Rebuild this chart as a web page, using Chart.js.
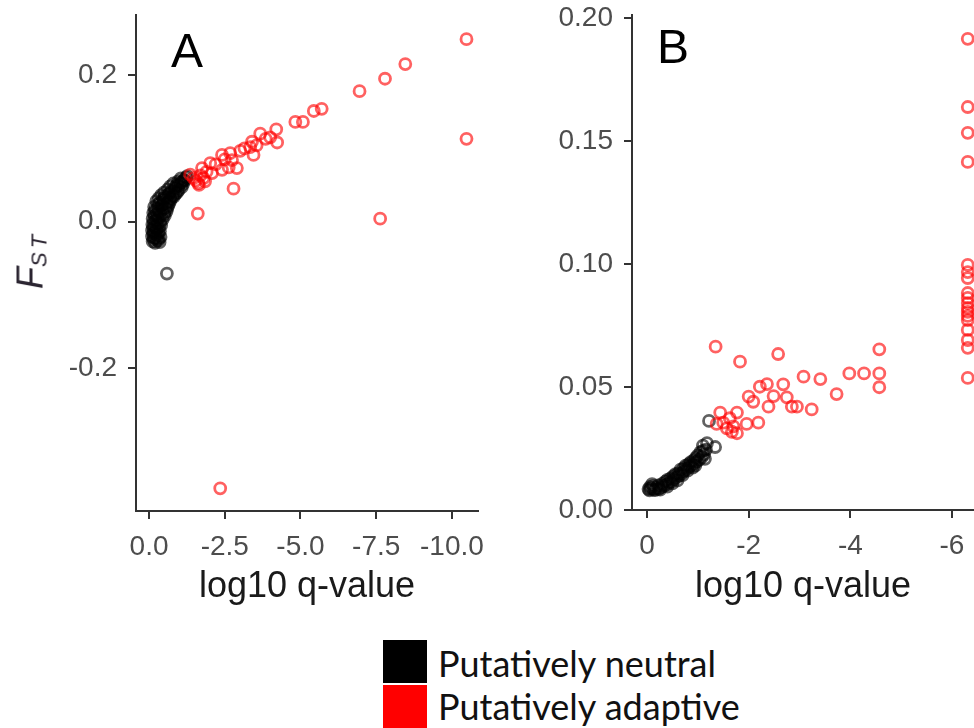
<!DOCTYPE html>
<html>
<head>
<meta charset="utf-8">
<script src="https://cdn.jsdelivr.net/npm/chart.js@4/dist/chart.umd.min.js"></script>
<style>
  body { margin: 0; width: 974px; height: 728px; overflow: hidden; position: relative; background: #fff; }
  canvas { position: absolute; top: 0; }
  .panel-tag { position: absolute; font: 48px/48px "Liberation Sans", Arial, sans-serif; color: #000; }
  .ylab {
    position: absolute; left: 35px; top: 260px; white-space: nowrap;
    transform: translate(-50%, -50%) rotate(-90deg);
    font: italic 36px/40px "Liberation Sans", Arial, sans-serif; color: #2a2430;
  }
  .ylab sub { font-size: 22px; letter-spacing: 4px; vertical-align: -4px; }
  .legend-row { position: absolute; left: 383px; height: 44px; font: 36px/44px Lato, sans-serif; color: #111; }
  .legend-row span.box { position: absolute; left: 0; width: 44px; height: 43px; }
  .legend-row span.txt { position: absolute; left: 55px; top: 0; white-space: nowrap; }
</style>
</head>
<body>
<canvas id="chartA" width="500" height="630" style="left:0"></canvas>
<canvas id="chartB" width="500" height="630" style="left:490px"></canvas>
<div class="panel-tag" style="left:171px; top:27px">A</div>
<div class="panel-tag" style="left:657px; top:23px">B</div>
<div class="ylab">F<sub>ST</sub></div>
<div class="legend-row" style="top:641px"><span class="box" style="top:-1px; background:#000"></span><span class="txt">Putatively neutral</span></div>
<div class="legend-row" style="top:684px"><span class="box" style="top:1px; background:#f00"></span><span class="txt">Putatively adaptive</span></div>
<script>
// Panel A: [log10 q-value, Fst]
const neutralA = [
  [-0.12, -0.027], [-0.20, -0.029], [-0.28, -0.026], [-0.35, -0.028],
  [-0.15, -0.024], [-0.24, -0.023], [-0.32, -0.024],
  [-0.10, -0.020], [-0.18, -0.022], [-0.27, -0.019], [-0.38, -0.021],
  [-0.14, -0.016], [-0.22, -0.017], [-0.31, -0.016],
  [-0.10, -0.012], [-0.17, -0.014], [-0.26, -0.011], [-0.36, -0.013],
  [-0.14, -0.008], [-0.23, -0.009], [-0.32, -0.008],
  [-0.11, -0.004], [-0.19, -0.006], [-0.29, -0.003], [-0.40, -0.005],
  [-0.16, 0.000], [-0.26, 0.001], [-0.37, -0.001],
  [-0.12, 0.004], [-0.22, 0.002], [-0.33, 0.005], [-0.45, 0.003],
  [-0.18, 0.008], [-0.28, 0.007], [-0.40, 0.009], [-0.52, 0.008],
  [-0.14, 0.012], [-0.24, 0.010], [-0.36, 0.013], [-0.50, 0.011], [-0.58, 0.014],
  [-0.20, 0.016], [-0.31, 0.015], [-0.45, 0.017], [-0.60, 0.018],
  [-0.17, 0.020], [-0.28, 0.018], [-0.40, 0.021], [-0.54, 0.019], [-0.64, 0.022],
  [-0.30, 0.024], [-0.44, 0.023], [-0.58, 0.025], [-0.68, 0.026],
  [-0.24, 0.028], [-0.36, 0.026], [-0.49, 0.029], [-0.62, 0.027], [-0.72, 0.030],
  [-0.32, 0.032], [-0.46, 0.031], [-0.58, 0.033], [-0.70, 0.032], [-0.82, 0.034],
  [-0.40, 0.036], [-0.52, 0.034], [-0.65, 0.037], [-0.78, 0.035], [-0.88, 0.038],
  [-0.50, 0.040], [-0.68, 0.039], [-0.82, 0.041], [-0.93, 0.040],
  [-0.62, 0.044], [-0.74, 0.042], [-0.86, 0.045], [-0.98, 0.043],
  [-0.70, 0.048], [-0.86, 0.047], [-0.98, 0.049], [-1.08, 0.047],
  [-0.80, 0.052], [-0.92, 0.050], [-1.04, 0.053], [-1.12, 0.051],
  [-0.96, 0.055], [-1.08, 0.054], [-1.18, 0.056],
  [-1.05, 0.059], [-1.15, 0.057], [-1.22, 0.060], [-1.26, 0.062],
  [-0.59, -0.071]
];
const adaptiveA = [
  [-10.48, 0.249], [-10.48, 0.113], [-8.46, 0.215], [-7.79, 0.195], [-6.95, 0.178],
  [-7.63, 0.004], [-5.70, 0.154], [-5.44, 0.151], [-5.08, 0.136], [-4.83, 0.136],
  [-4.20, 0.126], [-4.23, 0.108], [-4.00, 0.115], [-3.67, 0.120], [-3.40, 0.109],
  [-3.34, 0.1016], [-3.45, 0.091], [-3.01, 0.0966], [-2.68, 0.0935], [-2.41, 0.091],
  [-2.90, 0.073], [-2.63, 0.074], [-2.74, 0.084], [-2.41, 0.0707], [-2.02, 0.0798],
  [-2.08, 0.0662], [-1.75, 0.073], [-1.80, 0.0595], [-1.63, 0.0526], [-1.47, 0.0595],
  [-1.36, 0.064], [-1.55, 0.056], [-1.70, 0.063], [-1.90, 0.068], [-1.65, 0.050],
  [-1.85, 0.055], [-2.20, 0.078], [-2.50, 0.085], [-3.15, 0.100], [-3.55, 0.104],
  [-3.85, 0.113], [-2.79, 0.045], [-1.61, 0.011], [-2.35, -0.364]
];

// Panel B
const neutralB = [
  [-0.03, 0.0085], [-0.08, 0.0088], [-0.13, 0.0083], [-0.06, 0.0094], [-0.18, 0.0090],
  [-0.05, 0.0080], [-0.16, 0.0081], [-0.26, 0.0083], [-0.10, 0.0105], [-0.30, 0.0106],
  [-0.23, 0.0086], [-0.12, 0.0097], [-0.28, 0.0093], [-0.33, 0.0098], [-0.22, 0.0100],
  [-0.38, 0.0103], [-0.43, 0.0110], [-0.36, 0.0115], [-0.48, 0.0116], [-0.53, 0.0125],
  [-0.50, 0.0108], [-0.40, 0.0122], [-0.52, 0.0138], [-0.62, 0.0150],
  [-0.46, 0.0128], [-0.58, 0.0133], [-0.63, 0.0140], [-0.56, 0.0146], [-0.68, 0.0150],
  [-0.73, 0.0158], [-0.66, 0.0164], [-0.78, 0.0168], [-0.83, 0.0175], [-0.76, 0.0180],
  [-0.72, 0.0170], [-0.80, 0.0160], [-0.82, 0.0186], [-0.95, 0.0180],
  [-0.88, 0.0182], [-0.93, 0.0190], [-0.86, 0.0195], [-0.98, 0.0197], [-1.03, 0.0205],
  [-0.92, 0.0202], [-1.00, 0.0222], [-1.14, 0.0208], [-1.10, 0.0240],
  [-0.96, 0.0212], [-1.08, 0.0215], [-1.12, 0.0226], [-1.05, 0.0235], [-1.16, 0.0245],
  [-1.10, 0.0262], [-1.18, 0.0272], [-1.34, 0.0256], [-1.22, 0.0362], [-0.70, 0.0142],
  [-0.90, 0.0172], [-0.40, 0.0095], [-0.60, 0.0120]
];
const adaptiveB = [
  [-1.35, 0.0664], [-1.83, 0.0603], [-2.58, 0.0634], [-4.57, 0.0653], [-4.57, 0.0555],
  [-4.57, 0.0499], [-4.27, 0.0555], [-3.98, 0.0555], [-3.73, 0.0471], [-3.41, 0.0532],
  [-3.08, 0.0542], [-3.24, 0.0409], [-2.95, 0.0420], [-2.85, 0.0420], [-2.68, 0.0511],
  [-2.75, 0.0458], [-2.49, 0.0463], [-2.39, 0.0420], [-2.36, 0.0512], [-2.22, 0.0501],
  [-2.00, 0.0461], [-2.09, 0.0440], [-2.19, 0.0355], [-1.96, 0.0350], [-1.77, 0.0396],
  [-1.70, 0.0340], [-1.77, 0.0312], [-1.44, 0.0396], [-1.63, 0.0373], [-1.50, 0.0355],
  [-1.37, 0.0350], [-1.57, 0.0332], [-1.67, 0.0318],
  [-6.31, 0.1915], [-6.31, 0.1638], [-6.31, 0.1533], [-6.31, 0.1415], [-6.31, 0.0996],
  [-6.31, 0.0967], [-6.31, 0.0943], [-6.31, 0.0882], [-6.31, 0.0862], [-6.31, 0.0841],
  [-6.31, 0.0821], [-6.31, 0.0805], [-6.31, 0.0789], [-6.31, 0.0772], [-6.31, 0.0732],
  [-6.31, 0.0691], [-6.31, 0.0659], [-6.31, 0.0537]
];

// Tick positions and labels
const ticksAx = [0, -2.5, -5, -7.5, -10];
const labelsAx = ['0.0', '-2.5', '-5.0', '-7.5', '-10.0'];
const ticksAy = [-0.2, 0, 0.2];
const labelsAy = ['-0.2', '0.0', '0.2'];
const ticksBx = [0, -2, -4, -6];
const labelsBx = ['0', '-2', '-4', '-6'];
const ticksBy = [0, 0.05, 0.1, 0.15, 0.2];
const labelsBy = ['0.00', '0.05', '0.10', '0.15', '0.20'];

const tickFont = { family: '"Liberation Sans", Arial, sans-serif', size: 28 };
const titleFont = { family: '"Liberation Sans", Arial, sans-serif', size: 36 };

function toPoints(arr) {
  return arr.map(([x, y]) => ({ x, y }));
}

function axis(opts) {
  return {
    type: 'linear',
    reverse: opts.reverse || false,
    min: opts.min,
    max: opts.max,
    afterBuildTicks: s => { s.ticks = opts.ticks.map(v => ({ value: v })); },
    afterFit: s => {
      if (opts.width) s.width = opts.width;
      if (opts.height) s.height = opts.height;
      // fixed plot box: no extra room for overhanging labels
      s.paddingTop = s.paddingBottom = s.paddingLeft = s.paddingRight = 0;
    },
    ticks: {
      font: tickFont,
      color: '#4d4d4d',
      padding: opts.pad,
      maxRotation: 0,
      autoSkip: false,
      callback: (v, i) => opts.labels[opts.ticks.indexOf(v)] ?? opts.labels[i]
    },
    grid: { drawOnChartArea: false, tickLength: 8, color: '#333', lineWidth: 2 },
    border: { display: true, color: '#333', width: 2 },
    title: opts.title
      ? { display: true, text: opts.title, font: titleFont, color: '#1a1a1a', padding: { top: 0, bottom: 21 } }
      : { display: false }
  };
}

function makeChart(id, neutral, adaptive, pad, xOpts, yOpts) {
  return new Chart(document.getElementById(id), {
    type: 'scatter',
    data: {
      datasets: [
        {
          label: 'Putatively adaptive',
          data: toPoints(adaptive),
          pointBorderColor: 'rgba(255,0,0,0.62)',
          pointBackgroundColor: 'rgba(0,0,0,0)',
          pointRadius: 5.5,
          pointBorderWidth: 2.8
        },
        {
          label: 'Putatively neutral',
          data: toPoints(neutral),
          pointBorderColor: 'rgba(0,0,0,0.62)',
          pointBackgroundColor: 'rgba(0,0,0,0)',
          pointRadius: 5.5,
          pointBorderWidth: 2.8
        }
      ]
    },
    options: {
      responsive: false,
      animation: false,
      devicePixelRatio: 1,
      layout: { padding: pad },
      plugins: { legend: { display: false }, tooltip: { enabled: false } },
      scales: { x: axis(xOpts), y: axis(yOpts) }
    }
  });
}

makeChart('chartA', neutralA, adaptiveA, { top: 15, right: 22, left: 0, bottom: 0 },
  { reverse: true, min: -10.86, max: 0.43, ticks: ticksAx, labels: labelsAx, height: 119, pad: 11, title: 'log10 q-value' },
  { min: -0.395, max: 0.282, ticks: ticksAy, labels: labelsAy, width: 136, pad: 11 });

makeChart('chartB', neutralB, adaptiveB, { top: 15, right: 16, left: 0, bottom: 0 },
  { reverse: true, min: -6.433, max: 0.295, ticks: ticksBx, labels: labelsBx, height: 120, pad: 11, title: 'log10 q-value' },
  { min: 0, max: 0.2012, ticks: ticksBy, labels: labelsBy, width: 142, pad: 11 });
</script>
</body>
</html>
